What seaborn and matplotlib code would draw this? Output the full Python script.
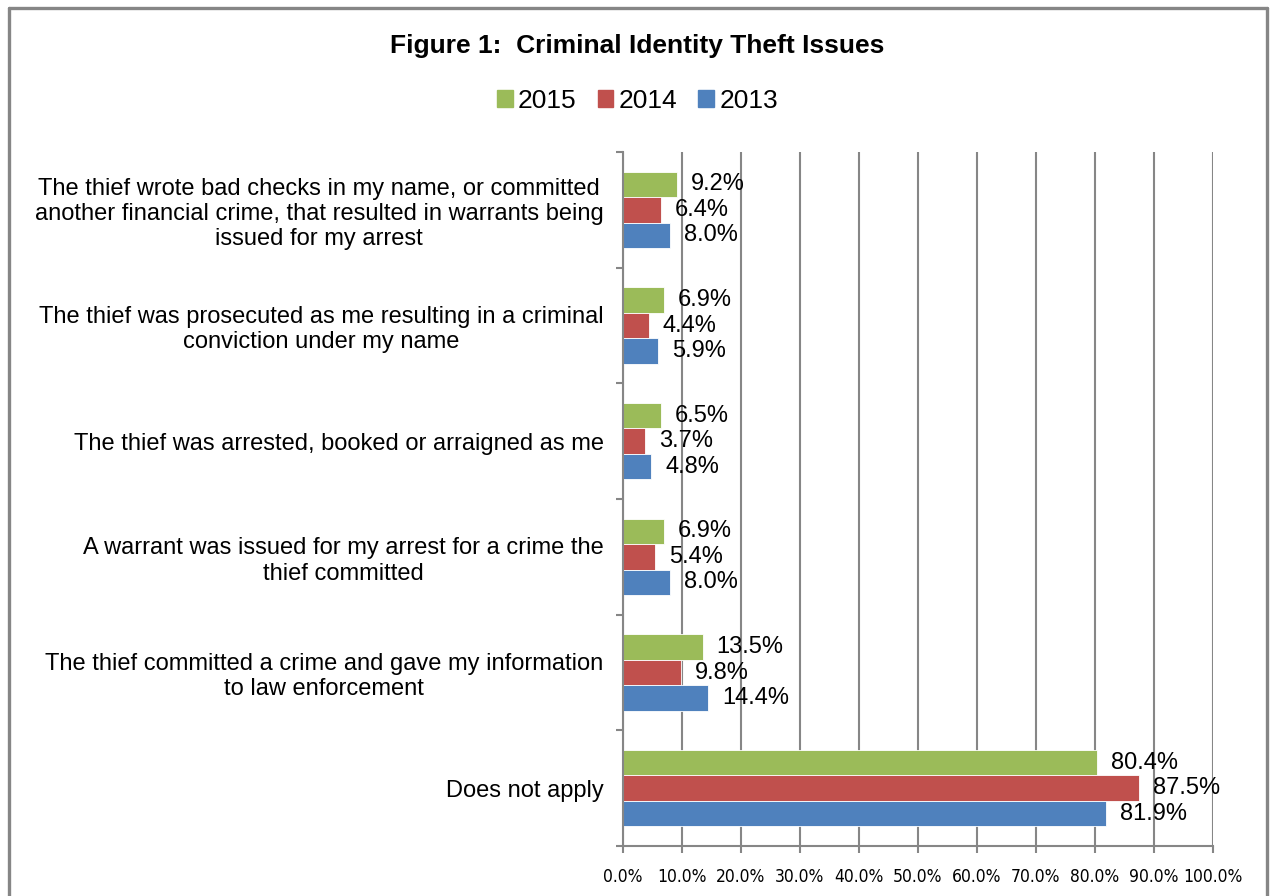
import matplotlib
matplotlib.use("Agg")
import matplotlib.pyplot as plt
import matplotlib.ticker as mticker
from matplotlib.lines import Line2D
import seaborn as sns
import pandas as pd

categories = [
    "The thief wrote bad checks in my name, or committed\nanother financial crime, that resulted in warrants being\nissued for my arrest",
    "The thief was prosecuted as me resulting in a criminal\nconviction under my name",
    "The thief was arrested, booked or arraigned as me",
    "A warrant was issued for my arrest for a crime the\nthief committed",
    "The thief committed a crime and gave my information\nto law enforcement",
    "Does not apply",
]
years = ["2015", "2014", "2013"]
values_2015 = [9.2, 6.9, 6.5, 6.9, 13.5, 80.4]
values_2014 = [6.4, 4.4, 3.7, 5.4, 9.8, 87.5]
values_2013 = [8.0, 5.9, 4.8, 8.0, 14.4, 81.9]
colors = ["#9BBB59", "#C0504D", "#4F81BD"]
x_ticks = [0, 10, 20, 30, 40, 50, 60, 70, 80, 90, 100]

rows = []
for yr, vals in zip(years, [values_2015, values_2014, values_2013]):
    for c, v in zip(categories, vals):
        rows.append({"category": c, "year": yr, "value": v})
df = pd.DataFrame(rows)

sns.set_style("white")
plt.rcParams["font.family"] = ["Liberation Sans", "DejaVu Sans"]
plt.rcParams["text.color"] = "black"
plt.rcParams["xtick.color"] = "black"
plt.rcParams["ytick.color"] = "black"
plt.rcParams["axes.labelcolor"] = "black"

GRAY = "#868686"
fig = plt.figure(figsize=(12.75, 8.96), dpi=100)
ax = fig.add_axes([623 / 1275, 1 - 846 / 896, (1213 - 623) / 1275, (846 - 152) / 896])

sns.barplot(data=df, y="category", x="value", hue="year", hue_order=years,
            order=categories, palette=colors, orient="h", width=0.66,
            edgecolor="white", linewidth=0.6, ax=ax, legend=False, saturation=1)

for cont in ax.containers:
    ax.bar_label(cont, fmt="%.1f%%", padding=10, fontsize=17, color="black")

ax.set_xlim(0, 100)
ax.set_ylim(len(categories) - 0.5, -0.5)
ax.set_xticks(x_ticks)
ax.xaxis.set_major_formatter(mticker.FuncFormatter(lambda v, p: f"{v:.1f}%"))
for lbl in ax.get_xticklabels():
    lbl.set_fontfamily("DejaVu Sans")
    lbl.set_fontstretch("condensed")
    lbl.set_fontsize(12.5)
ax.tick_params(axis="x", length=5, width=1.5, color=GRAY, labelcolor="black", pad=11,
               direction="out", bottom=True)

ax.set_yticks(range(len(categories)))
ax.set_yticklabels(categories, fontsize=17, ha="right", multialignment="center",
                   linespacing=1.2)
ax.tick_params(axis="y", which="major", length=0, pad=14, labelcolor="black")
ax.set_yticks([i - 0.5 for i in range(len(categories) + 1)], minor=True)
ax.tick_params(axis="y", which="minor", length=5, width=1.5, color=GRAY, direction="out", left=True)

ax.set_xlabel("")
ax.set_ylabel("")
ax.grid(axis="x", color=GRAY, linewidth=1.5)
ax.grid(axis="y", visible=False)
ax.set_axisbelow(True)
for s in ["top", "right"]:
    ax.spines[s].set_visible(False)
for s in ["left", "bottom"]:
    ax.spines[s].set_color(GRAY)
    ax.spines[s].set_linewidth(1.5)

fig.text(0.5, 1 - 46 / 896, "Figure 1:  Criminal Identity Theft Issues", ha="center",
         va="center", fontsize=19, fontweight="bold", color="black")

handles = [plt.Rectangle((0, 0), 1, 1, color=c) for c in colors]
fig.legend(handles, years, loc="center", bbox_to_anchor=(0.5, 1 - 101 / 896), ncol=3,
           frameon=False, fontsize=19, handlelength=0.6, handleheight=0.6,
           handletextpad=0.2, columnspacing=0.8)

# outer border
x0, x1 = 9 / 1275, 1267 / 1275
yt = 1 - 8 / 896
for xs, ys in [([x0, x0], [-0.01, yt]), ([x0, x1], [yt, yt]), ([x1, x1], [yt, -0.01])]:
    fig.add_artist(Line2D(xs, ys, color=GRAY, linewidth=2.4, transform=fig.transFigure))

fig.savefig("out.png", dpi=100)
